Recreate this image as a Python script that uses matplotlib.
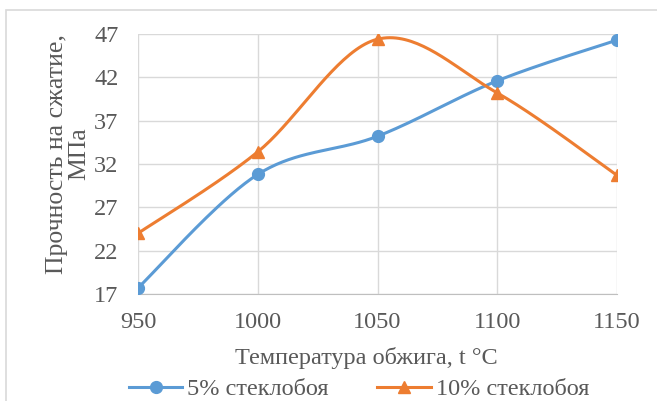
import matplotlib.pyplot as plt
import numpy as np
from matplotlib.patches import Rectangle

temps = [950, 1000, 1050, 1100, 1150]
glass5 = [17.7, 30.8, 35.2, 41.6, 46.3]
glass10 = [24.0, 33.4, 46.4, 40.2, 30.7]
yticks = [17, 22, 27, 32, 37, 42, 47]


def smooth(xs, ys, n=40):
    # excel-like smoothed line: cubic bezier segments with catmull-rom control points
    xs = np.asarray(xs, float)
    ys = np.asarray(ys, float)
    px, py = [], []
    for i in range(len(xs) - 1):
        x0, y0 = xs[i], ys[i]
        x3, y3 = xs[i + 1], ys[i + 1]
        xm, ym = (xs[i - 1], ys[i - 1]) if i > 0 else (x0, y0)
        xp, yp = (xs[i + 2], ys[i + 2]) if i + 2 < len(xs) else (x3, y3)
        x1, y1 = x0 + (x3 - xm) / 6, y0 + (y3 - ym) / 6
        x2, y2 = x3 - (xp - x0) / 6, y3 - (yp - y0) / 6
        t = np.linspace(0, 1, n)
        px.append((1-t)**3*x0 + 3*(1-t)**2*t*x1 + 3*(1-t)*t**2*x2 + t**3*x3)
        py.append((1-t)**3*y0 + 3*(1-t)**2*t*y1 + 3*(1-t)*t**2*y2 + t**3*y3)
    return np.concatenate(px), np.concatenate(py)


plt.rcParams['font.family'] = ['Liberation Serif', 'DejaVu Serif']

fig = plt.figure(figsize=(6.57, 4.01), dpi=100)
ax = fig.add_axes([138/657, 1 - 294/401, (617-138)/657, (294-34)/401])

blue = '#5B9BD5'
orange = '#ED7D31'
txt = '#595959'

sx, sy = smooth(temps, glass5)
ax.plot(sx, sy, color=blue, lw=2.2, zorder=3)
ax.plot(temps, glass5, 'o', color=blue, ms=8.5, zorder=4)
sx, sy = smooth(temps, glass10)
ax.plot(sx, sy, color=orange, lw=2.2, zorder=3)
ax.plot(temps, glass10, '^', color=orange, ms=8.5, zorder=4)

# legend proxies
ax.plot([], [], '-o', color=blue, lw=2.2, ms=8.5, label='5% стеклобоя')
ax.plot([], [], '-^', color=orange, lw=2.2, ms=8.5, label='10% стеклобоя')

ax.set_xlim(950, 1150)
ax.set_ylim(17, 47)
ax.set_xticks(temps)
ax.set_yticks(yticks)
ax.grid(True, color='#d9d9d9', lw=1)
ax.set_axisbelow(True)
for s in ['top', 'right', 'left']:
    ax.spines[s].set_visible(False)
ax.spines['bottom'].set_color('#bfbfbf')
ax.tick_params(length=0, labelsize=17.5, colors=txt)
ax.tick_params(axis='x', pad=13)
ax.tick_params(axis='y', pad=14)

ax.set_xlabel('Температура обжига, t °C', fontsize=17.5, color=txt)
ax.xaxis.set_label_coords(0.476, -0.205)
ax.set_ylabel('Прочность на сжатие,\nМПа', fontsize=18.5, color=txt, linespacing=1.0)
ax.yaxis.set_label_coords(-0.100, 0.54)

handles, labels = ax.get_legend_handles_labels()
fig.legend(handles[-2:], labels[-2:], loc='center', bbox_to_anchor=(359/657, 1 - 389/401),
           ncol=2, frameon=False, fontsize=17.5, handlelength=2.2, columnspacing=2.0,
           handletextpad=0.2, labelcolor=txt, borderpad=0, borderaxespad=0)

fig.patches.append(Rectangle((6/657, -0.1), 1.2, 1 - 10/401 + 0.1, transform=fig.transFigure,
                             fill=False, edgecolor='#d9d9d9', lw=1.2))

fig.savefig('out.png', dpi=100)
